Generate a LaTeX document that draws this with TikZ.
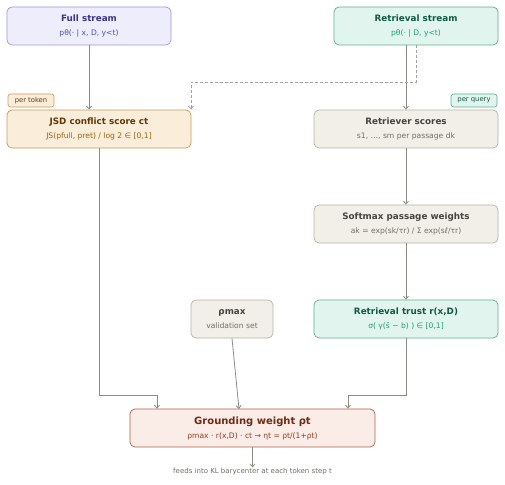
\documentclass[tikz,border=0pt]{standalone}
\usepackage{fontspec}
\setmainfont{DejaVu Sans}
\usetikzlibrary{arrows.meta}
\definecolor{arr}{HTML}{8C8B84}
\definecolor{pfill}{HTML}{EEEDFC}\definecolor{pdraw}{HTML}{9C96DA}\definecolor{ptitle}{HTML}{3C3489}\definecolor{psub}{HTML}{534AB7}
\definecolor{tfill}{HTML}{E1F5EE}\definecolor{tdraw}{HTML}{5DAF8F}\definecolor{ttitle}{HTML}{0F5A45}\definecolor{tsub}{HTML}{1D9E75}
\definecolor{afill}{HTML}{FAEEDA}\definecolor{adraw}{HTML}{C89A5A}\definecolor{atitle}{HTML}{633806}\definecolor{asub}{HTML}{9A6212}
\definecolor{gfill}{HTML}{F1EFE8}\definecolor{gdraw}{HTML}{B4B2A9}\definecolor{gtitle}{HTML}{444441}\definecolor{gsub}{HTML}{6F6E68}
\definecolor{cfill}{HTML}{FAECE7}\definecolor{cdraw}{HTML}{B0604A}\definecolor{ctitle}{HTML}{712B13}\definecolor{csub}{HTML}{993C1D}
\tikzset{
  box/.style={draw, rounded corners=5pt, line width=0.7pt, minimum height=38pt, align=center, inner sep=0pt},
  tag/.style={draw, rounded corners=2.5pt, line width=0.6pt, minimum height=13pt, minimum width=46pt, inner sep=0pt, font=\fontsize{6.8}{8}\selectfont},
  conn/.style={draw=arr, line width=0.8pt, -{Straight Barb[length=3pt,width=5pt]}},
  dconn/.style={draw=arr!80, line width=0.8pt, dashed, dash pattern=on 3pt off 2pt, -{Straight Barb[length=3pt,width=5pt]}},
}
\newcommand{\bt}[2]{{\fontsize{8.8}{10}\selectfont\bfseries\color{#1}#2}}
\newcommand{\st}[2]{{\fontsize{7.6}{9}\selectfont\color{#1}#2}}
\begin{document}
\begin{tikzpicture}[x=1pt,y=-1pt]
\useasboundingbox (0,0) rectangle (505,484);
\node[box, fill=pfill, draw=pdraw, minimum width=164pt] (full) at (89,26) {\bt{ptitle}{Full stream}\\[2pt]\st{psub}{pθ(· | x, D, y<t)}};
\node[box, fill=tfill, draw=tdraw, minimum width=164pt] (ret) at (416,26) {\bt{ttitle}{Retrieval stream}\\[2pt]\st{tsub}{pθ(· | D, y<t)}};
\node[tag, fill=afill, draw=adraw, text=atitle] (ptok) at (31,100.5) {per token};
\node[tag, fill=tfill, draw=tdraw, text=ttitle] (pq) at (474,100.5) {per query};
\node[box, fill=afill, draw=adraw, minimum width=184pt] (jsd) at (99,129) {\bt{atitle}{JSD conflict score ct}\\[2pt]\st{asub}{JS(pfull, pret) / log 2 ∈ [0,1]}};
\node[box, fill=gfill, draw=gdraw, minimum width=184pt] (rs) at (406,129) {\bt{gtitle}{Retriever scores}\\[2pt]\st{gsub}{s1, …, sm per passage dk}};
\node[box, fill=gfill, draw=gdraw, minimum width=184pt] (soft) at (406,224) {\bt{gtitle}{Softmax passage weights}\\[2pt]\st{gsub}{ak = exp(sk/τr) / Σ exp(sℓ/τr)}};
\node[box, fill=gfill, draw=gdraw, minimum width=82pt] (rho) at (232,319) {\bt{gtitle}{ρmax}\\[2pt]\st{gsub}{validation set}};
\node[box, fill=tfill, draw=tdraw, minimum width=184pt] (trust) at (406,319) {\bt{ttitle}{Retrieval trust r(x,D)}\\[2pt]\st{tsub}{σ( γ(s̄ − b) ) ∈ [0,1]}};
\node[box, fill=cfill, draw=cdraw, minimum width=245pt] (gw) at (252.5,428) {{\fontsize{10}{11}\selectfont\bfseries\color{ctitle}Grounding weight ρt}\\[2pt]\st{csub}{ρmax · r(x,D) · ct → ηt = ρt/(1+ρt)}};
\node[font=\fontsize{7}{8}\selectfont, text=gsub, inner sep=1pt] (foot) at (252.5,472) {feeds into KL barycenter at each token step t};
\coordinate (d1) at (416,82);
\coordinate (d2) at (191,82);
\draw[conn] (full.south) -- (full.south |- jsd.north);
\draw[conn] (ret.south -| rs.north) -- (rs.north);
\draw[dconn] (ret.south -| d1) -- (d1) -- (d2) -- (d2 |- jsd.north);
\draw[conn] (rs.south) -- (soft.north);
\draw[conn] (soft.south) -- (trust.north);
\coordinate (j1) at (99,395);
\coordinate (j2) at (157,395);
\draw[conn] (jsd.south) -- (j1) -- (j2) -- (j2 |- gw.north);
\coordinate (t1) at (406,395);
\coordinate (t2) at (348,395);
\draw[conn] (trust.south) -- (t1) -- (t2) -- (t2 |- gw.north);
\coordinate (r1) at (239,409);
\draw[conn] (rho.south) -- (r1);
\draw[conn] (gw.south) -- (gw.south |- foot.north);
\end{tikzpicture}
\end{document}
